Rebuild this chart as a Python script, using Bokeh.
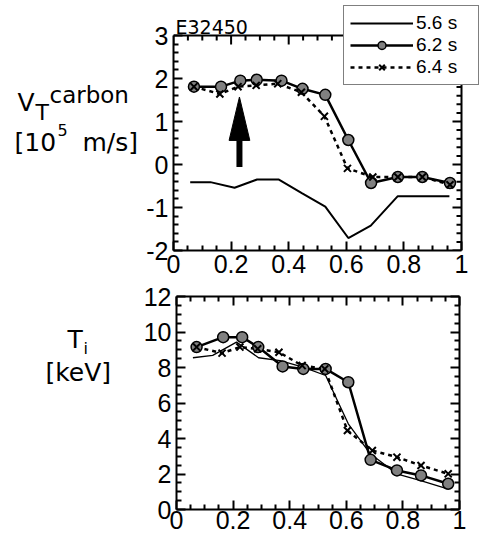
import numpy as np
from bokeh.plotting import figure
from bokeh.layouts import column, row
from bokeh.models import (Range1d, LinearAxis, FixedTicker, CustomJSTickFormatter,
                          Legend, LegendItem)
from bokeh.core.properties import value
from bokeh.embed import file_html
from bokeh.resources import INLINE

# ---------------- data ----------------
shot = "E32450"
rho_56 = [0.058, 0.128, 0.212, 0.29, 0.366, 0.447, 0.527, 0.607, 0.685, 0.778, 0.863, 0.958]
rho_62 = [0.071, 0.165, 0.232, 0.289, 0.375, 0.448, 0.527, 0.607, 0.686, 0.779, 0.864, 0.96]
rho_64 = [0.071, 0.161, 0.224, 0.287, 0.362, 0.444, 0.524, 0.604, 0.692, 0.779, 0.864, 0.96]

vt_56 = [-0.41, -0.41, -0.54, -0.35, -0.35, -0.67, -0.98, -1.71, -1.42, -0.74, -0.74, -0.74]
vt_62 = [1.81, 1.81, 1.95, 1.97, 1.95, 1.76, 1.62, 0.57, -0.43, -0.29, -0.29, -0.43]
vt_64 = [1.81, 1.64, 1.81, 1.84, 1.88, 1.68, 1.12, -0.09, -0.29, -0.29, -0.29, -0.47]

ti_56 = [8.55, 8.68, 9.43, 8.55, 8.39, 8.02, 7.55, 4.83, 3.14, 2.01, 1.63, 1.16]
ti_62 = [9.15, 9.71, 9.71, 9.15, 8.06, 7.92, 7.92, 7.17, 2.80, 2.20, 1.92, 1.45]
ti_64 = [9.15, 8.81, 9.15, 9.05, 8.86, 8.11, 7.92, 4.45, 3.32, 2.95, 2.48, 2.01]

series_labels = ["5.6 s", "6.2 s", "6.4 s"]
x_ticks = [0, 0.2, 0.4, 0.6, 0.8, 1]
vt_ticks = [-2, -1, 0, 1, 2, 3]
ti_ticks = [0, 2, 4, 6, 8, 10, 12]

# y titles: pieces (text, font size)
vt_title = [("V", "25px"), ("T", "22px"), ("carbon", "23px"),
            ("[10", "25px"), ("5", "16px"), ("m/s]", "25px")]
ti_title = [("T", "25px"), ("i", "16px"), ("[keV]", "25px")]

# arrow (data units of top panel)
arrow_x = 0.229
arrow_tail_y = -0.06
arrow_tip_y = 1.57
arrow_head_base_y = 0.56
arrow_head_half_w = 0.036

FONT = "Liberation Sans"
TFONT = "DejaVu Sans"
GRAY = "#808080"
LABW = 140

# pixel positions of the title pieces inside the side panels
vt_title_pos = [(17, 112), (35, 123), (49, 103), (14, 158), (57, 143), (82, 158)]
ti_title_pos = [(67, 53), (83, 65), (45, 95)]

minor_x = [v for v in np.round(np.arange(0, 1.0001, 0.05), 3) if v not in x_ticks]
minor_vt = [v for v in np.round(np.arange(-2, 3.0001, 0.2), 3) if v not in vt_ticks]
minor_ti = [v for v in np.round(np.arange(0, 12.0001, 0.5), 3) if v not in ti_ticks]


def style_axis(ax, ticks, minors, show, standoff):
    ax.ticker = FixedTicker(ticks=ticks, minor_ticks=minors)
    ax.axis_line_width = 2
    ax.axis_line_color = "black"
    ax.major_tick_line_width = 2
    ax.minor_tick_line_width = 2
    ax.major_tick_in = 9
    ax.major_tick_out = 0
    ax.minor_tick_in = 5
    ax.minor_tick_out = 0
    if show:
        ax.formatter = CustomJSTickFormatter(code="return tick.toString();")
        ax.major_label_text_font = FONT
        ax.major_label_text_font_size = "25px"
        ax.major_label_text_color = "black"
        ax.major_label_standoff = standoff
    else:
        ax.formatter = CustomJSTickFormatter(code="return '';")
        ax.major_label_text_font_size = "1px"
        ax.major_label_standoff = 0


def make_side(height, pieces, positions):
    s = figure(width=LABW, height=height, output_backend="svg", toolbar_location=None,
               x_range=Range1d(0, LABW), y_range=Range1d(height, 0),
               min_border=0, x_axis_type=None, y_axis_type=None)
    s.grid.visible = False
    s.outline_line_color = None
    for (txt, fs), (px, py) in zip(pieces, positions):
        s.text(x=[px], y=[py], text=[txt], text_font=value(TFONT),
               text_font_size=value(fs), text_baseline="alphabetic",
               text_align="left", text_color="black")
    return s


H1, H2 = 282, 265

# ---------------- top panel ----------------
# frame extends above / right of the box so that the legend can overlap the box edge
px_per_y = 215 / (vt_ticks[-1] - vt_ticks[0])
px_per_x = 288 / (x_ticks[-1] - x_ticks[0])
y_top = vt_ticks[-1] + 30 / px_per_y
x_right = x_ticks[-1] + 18 / px_per_x

p1 = figure(width=481 - LABW, height=H1, output_backend="svg", toolbar_location=None,
            x_range=Range1d(x_ticks[0], x_right), y_range=Range1d(vt_ticks[0], y_top),
            min_border_left=173 - LABW, min_border_right=2,
            min_border_top=5, min_border_bottom=32,
            x_axis_type=None, y_axis_type=None)
p1.grid.visible = False
p1.outline_line_color = None
xb = LinearAxis(bounds=(x_ticks[0], x_ticks[-1]))
style_axis(xb, x_ticks, minor_x, True, 4)
p1.add_layout(xb, "below")
yl = LinearAxis(bounds=(vt_ticks[0], vt_ticks[-1]))
style_axis(yl, vt_ticks, minor_vt, True, 5)
p1.add_layout(yl, "left")

# top and right edges of the box with inward ticks
x0, x1 = x_ticks[0], x_ticks[-1]
y0, y1 = vt_ticks[0], vt_ticks[-1]
p1.segment(x0=[x0, x1], y0=[y1, y0], x1=[x1, x1], y1=[y1, y1],
           line_color="black", line_width=2)
p1.ray(x=x_ticks, y=[y1] * len(x_ticks), length=9, length_units="screen",
       angle=-np.pi / 2, line_color="black", line_width=2)
p1.ray(x=minor_x, y=[y1] * len(minor_x), length=5, length_units="screen",
       angle=-np.pi / 2, line_color="black", line_width=2)
p1.ray(x=[x1] * len(vt_ticks), y=vt_ticks, length=9, length_units="screen",
       angle=np.pi, line_color="black", line_width=2)
p1.ray(x=[x1] * len(minor_vt), y=minor_vt, length=5, length_units="screen",
       angle=np.pi, line_color="black", line_width=2)

p1.text(x=[x0 + 2 / px_per_x], y=[y1 + 9 / px_per_y], text=[shot],
        text_font=value(TFONT), text_font_size=value("19px"),
        text_baseline="alphabetic", text_align="left", text_color="black")

r56 = p1.line(rho_56, vt_56, line_color="black", line_width=2)
r64l = p1.line(rho_64, vt_64, line_color="black", line_width=2.5, line_dash="4 4")
r62l = p1.line(rho_62, vt_62, line_color="black", line_width=2.5)
r62s = p1.scatter(rho_62, vt_62, marker="circle", size=11, fill_color=GRAY,
                  line_color="black", line_width=1.5)
r64s = p1.scatter(rho_64, vt_64, marker="x", size=10, line_color="black", line_width=2)

p1.segment(x0=[arrow_x], y0=[arrow_tail_y], x1=[arrow_x], y1=[arrow_head_base_y],
           line_color="black", line_width=6)
p1.patch([arrow_x - arrow_head_half_w, arrow_x, arrow_x + arrow_head_half_w],
         [arrow_head_base_y, arrow_tip_y, arrow_head_base_y],
         fill_color="black", line_color="black", line_width=1)

legend = Legend(items=[LegendItem(label=series_labels[0], renderers=[r56]),
                       LegendItem(label=series_labels[1], renderers=[r62l, r62s]),
                       LegendItem(label=series_labels[2], renderers=[r64l, r64s])],
                location="top_right", orientation="vertical",
                label_text_font=FONT, label_text_font_size="19px",
                label_text_color="black",
                glyph_width=63, glyph_height=20, label_height=20, label_width=56,
                label_standoff=3, padding=6, spacing=0, margin=0,
                border_line_color="black", border_line_width=1.5,
                background_fill_color="white", background_fill_alpha=1.0)
p1.add_layout(legend, "center")

s1 = make_side(H1, vt_title, vt_title_pos)

# ---------------- bottom panel ----------------
p2 = figure(width=481 - LABW, height=H2, output_backend="svg", toolbar_location=None,
            x_range=Range1d(0, 1), y_range=Range1d(ti_ticks[0], ti_ticks[-1]),
            min_border_left=173 - LABW, min_border_right=22,
            min_border_top=14, min_border_bottom=38,
            x_axis_type=None, y_axis_type=None)
p2.grid.visible = False
p2.outline_line_color = None
a = LinearAxis(); style_axis(a, x_ticks, minor_x, True, 1); p2.add_layout(a, "below")
a = LinearAxis(); style_axis(a, ti_ticks, minor_ti, True, 5); p2.add_layout(a, "left")
a = LinearAxis(); style_axis(a, x_ticks, minor_x, False, 0); p2.add_layout(a, "above")
a = LinearAxis(); style_axis(a, ti_ticks, minor_ti, False, 0); p2.add_layout(a, "right")

p2.line(rho_56, ti_56, line_color="black", line_width=1.3)
p2.line(rho_64, ti_64, line_color="black", line_width=2.5, line_dash="4 4")
p2.line(rho_62, ti_62, line_color="black", line_width=2.5)
p2.scatter(rho_62, ti_62, marker="circle", size=11, fill_color=GRAY,
           line_color="black", line_width=1.5)
p2.scatter(rho_64, ti_64, marker="x", size=10, line_color="black", line_width=2)

s2 = make_side(H2, ti_title, ti_title_pos)

layout = column(row(s1, p1, spacing=0), row(s2, p2, spacing=0), spacing=0)
open("out.html", "w").write(file_html(layout, INLINE))
